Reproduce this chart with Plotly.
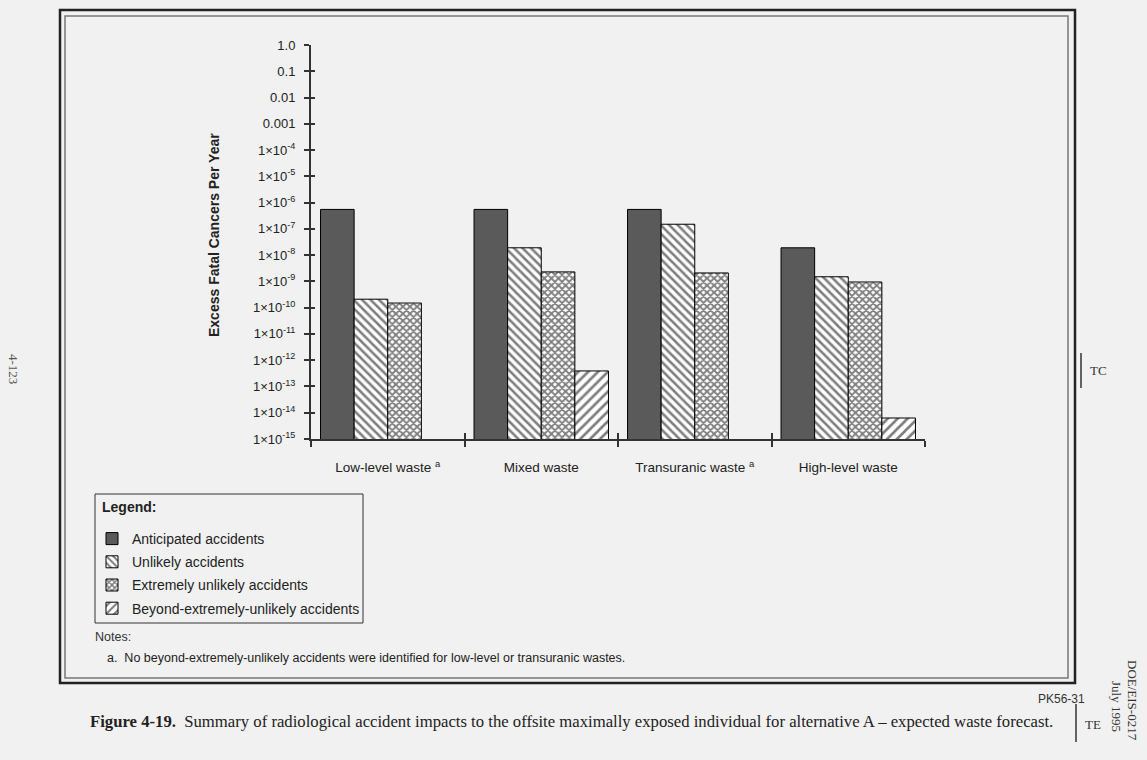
import plotly.graph_objects as go

# ---------------- data ----------------
categories = ["Low-level waste <sup>a</sup>", "Mixed waste",
              "Transuranic waste <sup>a</sup>", "High-level waste"]
anticipated = [5.5e-7, 5.5e-7, 5.5e-7, 1.9e-8]
unlikely = [2.1e-10, 1.9e-8, 1.5e-7, 1.5e-9]
extremely_unlikely = [1.5e-10, 2.3e-9, 2.1e-9, 9.5e-10]
beyond_extremely_unlikely = [None, 3.9e-13, None, 6.3e-15]
series_names = ["Anticipated accidents", "Unlikely accidents",
                "Extremely unlikely accidents", "Beyond-extremely-unlikely accidents"]
ytick_exps = list(range(0, -16, -1))
ytick_text = ["1.0", "0.1", "0.01", "0.001"] + [f"1×10<sup>{e}</sup>" for e in range(-4, -16, -1)]

# ---------------- layout geometry ----------------
W, H = 1147, 760
L, R, T, B = 311, 925, 45, 439
SANS = "Liberation Sans, Arial, sans-serif"
SERIF = "Liberation Serif, Times New Roman, serif"


def px(x):
    return (x - L) / (R - L)


def py(y):
    return (B - y) / (B - T)


styles = [
    dict(color="#5a5a5a", pattern=dict(shape="")),
    dict(color="white", pattern=dict(shape="\\", fgcolor="black", bgcolor="white", size=6, solidity=0.42)),
    dict(color="white", pattern=dict(shape="x", fgcolor="black", bgcolor="white", size=5, solidity=0.62)),
    dict(color="white", pattern=dict(shape="/", fgcolor="black", bgcolor="white", size=7, solidity=0.38)),
]

fig = go.Figure()
for i, (name, vals, st) in enumerate(zip(series_names,
                                         [anticipated, unlikely, extremely_unlikely, beyond_extremely_unlikely],
                                         styles)):
    fig.add_trace(go.Bar(
        x=categories, y=vals, name=name, legendgroup=f"g{i}",
        marker=dict(color=st["color"], pattern=st["pattern"],
                    line=dict(color="black", width=1)),
    ))

# invisible trace so the overlay axes (crossing tick halves) exist
fig.add_trace(go.Scatter(x=[None], y=[None], xaxis="x2", yaxis="y2",
                         showlegend=False, hoverinfo="skip"))

fig.update_layout(
    width=W, height=H,
    margin=dict(l=L, r=W - R, t=T, b=H - B, pad=0, autoexpand=False),
    paper_bgcolor="#f1f1f1",
    plot_bgcolor="rgba(0,0,0,0)",
    barmode="group", bargap=0.124, bargroupgap=0,
    font=dict(family=SANS, size=13, color="#222"),
    showlegend=True,
    legend=dict(
        xref="container", yref="container",
        x=92 / W, y=1 - 523 / H, xanchor="left", yanchor="top",
        bgcolor="rgba(0,0,0,0)", borderwidth=0,
        font=dict(family=SANS, size=14, color="#222"),
        traceorder="grouped", tracegroupgap=2,
    ),
    xaxis=dict(
        type="category", tickson="boundaries", ticks="outside", ticklen=6,
        tickwidth=1.5, tickcolor="#333", showline=True, linecolor="#333", linewidth=2,
        showgrid=False, zeroline=False, range=[-0.5, 3.5], tickangle=0, automargin=False,
        tickfont=dict(family=SANS, size=13.5, color="#222"),
        ticklabelstandoff=15,
    ),
    yaxis=dict(
        type="log", range=[-15, 0], tickvals=[10 ** e for e in ytick_exps],
        ticktext=ytick_text, ticks="outside", ticklen=5, tickwidth=1.5, tickcolor="#333",
        showline=True, linecolor="#333", linewidth=2, showgrid=False, zeroline=False,
        tickfont=dict(family=SANS, size=13, color="#222"), automargin=False,
        ticklabelstandoff=6,
    ),
    xaxis2=dict(overlaying="x", range=[-0.5, 3.5], tickvals=[-0.5, 0.5, 1.5, 2.5, 3.5],
                ticks="inside", ticklen=6, tickwidth=1.5, tickcolor="#333",
                showticklabels=False, showgrid=False, zeroline=False, showline=False,
                anchor="y2", side="bottom", automargin=False),
    yaxis2=dict(overlaying="y", type="log", range=[-15, 0],
                tickvals=[10 ** e for e in ytick_exps], ticks="inside", ticklen=4,
                tickwidth=1.5, tickcolor="#333", showticklabels=False, showgrid=False,
                zeroline=False, showline=False, anchor="x2", side="left", automargin=False),
)

shapes = [
    # double frame
    dict(type="rect", xref="paper", yref="paper", x0=px(60), x1=px(1075), y0=py(10), y1=py(683),
         line=dict(color="#222", width=2.5), fillcolor="rgba(0,0,0,0)", layer="below"),
    dict(type="rect", xref="paper", yref="paper", x0=px(65), x1=px(1068), y0=py(16), y1=py(678),
         line=dict(color="#777", width=1.5), fillcolor="rgba(0,0,0,0)", layer="below"),
    # legend box
    dict(type="rect", xref="paper", yref="paper", x0=px(95), x1=px(363), y0=py(494), y1=py(623),
         line=dict(color="#333", width=1), fillcolor="rgba(0,0,0,0)", layer="below"),
    # change bars TC / TE
    dict(type="line", xref="paper", yref="paper", x0=px(1081), x1=px(1081), y0=py(353), y1=py(388),
         line=dict(color="#333", width=1.5)),
    dict(type="line", xref="paper", yref="paper", x0=px(1076), x1=px(1076), y0=py(704), y1=py(742),
         line=dict(color="#333", width=1.5)),
]
fig.update_layout(shapes=shapes)

ann = [
    dict(text="<b>Excess Fatal Cancers Per Year</b>", x=px(214), y=py(235), textangle=-90,
         font=dict(family=SANS, size=14, color="#222")),
    dict(text="<b>Legend:</b>", x=px(100), y=py(507), xanchor="left",
         font=dict(family=SANS, size=14, color="#222")),
    dict(text="Notes:", x=px(93), y=py(637), xanchor="left",
         font=dict(family=SANS, size=12.5, color="#333")),
    dict(text="a.  No beyond-extremely-unlikely accidents were identified for low-level or transuranic wastes.",
         x=px(105), y=py(658), xanchor="left", font=dict(family=SANS, size=12.5, color="#222")),
    dict(text="PK56-31", x=px(1087), y=py(699), xanchor="right",
         font=dict(family=SANS, size=12, color="#333")),
    dict(text="<b>Figure 4-19.</b>  Summary of radiological accident impacts to the offsite maximally "
              "exposed individual for alternative A – expected waste forecast.",
         x=px(88), y=py(721), xanchor="left", font=dict(family=SERIF, size=16.7, color="#222")),
    dict(text="TC", x=px(1098), y=py(370), font=dict(family=SERIF, size=13, color="#333")),
    dict(text="TE", x=px(1093), y=py(725), font=dict(family=SERIF, size=13, color="#333")),
    dict(text="DOE/EIS-0217", x=px(1133), y=py(700), textangle=90,
         font=dict(family=SERIF, size=13, color="#333")),
    dict(text="July 1995", x=px(1117), y=py(706), textangle=90,
         font=dict(family=SERIF, size=13, color="#333")),
    dict(text="4-123", x=px(14), y=py(369), textangle=90,
         font=dict(family=SERIF, size=13, color="#555")),
]
for a in ann:
    a.setdefault("xref", "paper")
    a.setdefault("yref", "paper")
    a.setdefault("showarrow", False)
    a.setdefault("yanchor", "middle")
    a.setdefault("xanchor", "center")
fig.update_layout(annotations=ann)

fig.write_html("out.html", config={"displayModeBar": False},
               post_script="document.body.style.margin='0';")
